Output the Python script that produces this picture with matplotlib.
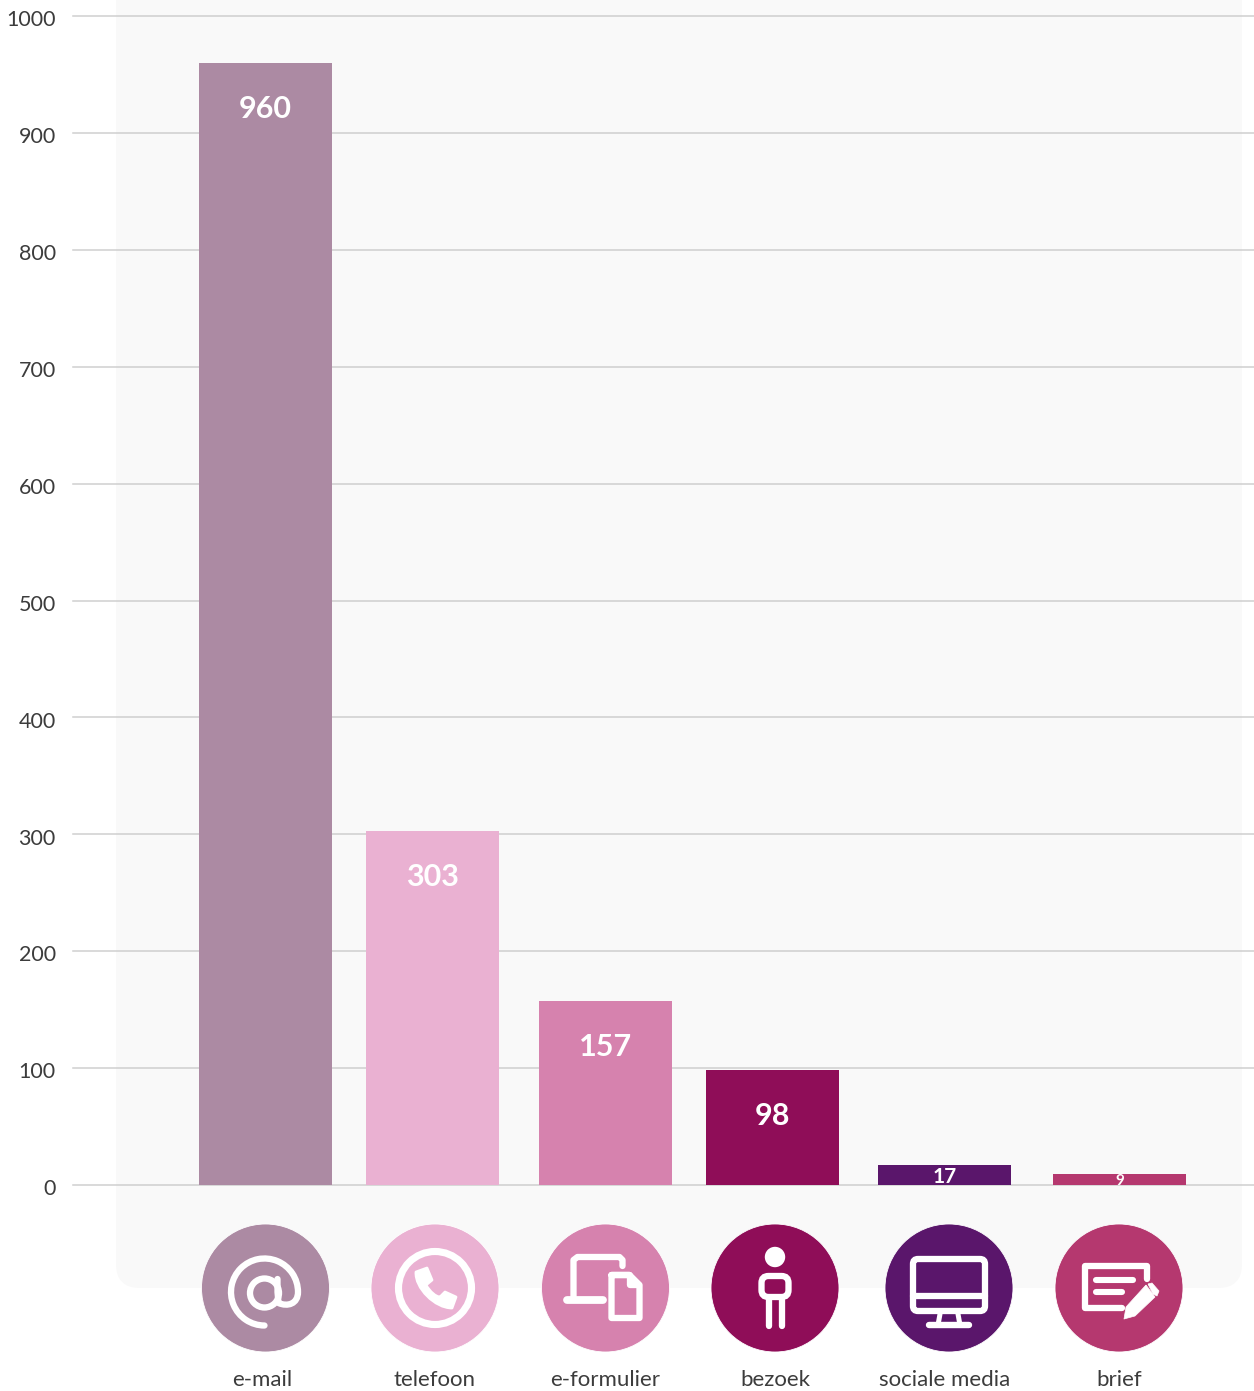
import matplotlib
matplotlib.use("Agg")
import matplotlib.pyplot as plt
from matplotlib.patches import Circle, FancyBboxPatch, PathPatch
from matplotlib.path import Path
from matplotlib.transforms import ScaledTranslation

# channel counts
channels = ["e-mail", "telefoon", "e-formulier", "bezoek", "sociale media", "brief"]
counts = [960, 303, 157, 98, 17, 9]
y_ticks = [0, 100, 200, 300, 400, 500, 600, 700, 800, 900, 1000]

colors = ["#ac8aa3", "#eab1d2", "#d682ae", "#8f0d58", "#5a166b", "#b5386f"]

# layout, in pixels of the finished image
W, H = 1254, 1391
bar_centers = [265.5, 432.5, 605.5, 772.5, 944.5, 1119.5]
icon_centers = [265.5, 435, 605.5, 775, 949, 1119]
label_centers = [262, 434, 605, 775, 945, 1119]
bar_width = 133
axis_left, axis_top, axis_bottom = 73, 16, 1185
FONT = "Lato"
WHITE = "white"

fig = plt.figure(figsize=(W / 100, H / 100), dpi=100, facecolor="white")

# pixel canvas behind the chart for the panel
bg = fig.add_axes([0, 0, 1, 1], zorder=0)
bg.set_xlim(0, W)
bg.set_ylim(H, 0)
bg.axis("off")
bg.add_patch(FancyBboxPatch((116 + 24, -60), 1126 - 48, 1288 - 24 + 60,
                            boxstyle="round,pad=24,rounding_size=24",
                            fc="#f9f9f9", ec="none"))

# the chart itself
ax = fig.add_axes([axis_left / W, 1 - axis_bottom / H, 1 - axis_left / W,
                   (axis_bottom - axis_top) / H], zorder=1)
ax.patch.set_visible(False)
ax.set_xlim(axis_left, W)
ax.set_ylim(0, 1000)
for s in ax.spines.values():
    s.set_visible(False)
ax.set_yticks(y_ticks)
ax.set_xticks([])
ax.tick_params(axis="y", length=0, pad=12.5, labelsize=15.5, labelcolor="#3c3c3c")
nudge = ScaledTranslation(0, -1.6 / 72, fig.dpi_scale_trans)
for t in ax.get_yticklabels():
    t.set_fontfamily(FONT)
    t.set_transform(t.get_transform() + nudge)
ax.yaxis.grid(True, color="#cfcfcf", lw=1.1)
ax.set_axisbelow(True)
for g in ax.get_ygridlines():
    g.set_clip_on(False)

bars = ax.bar(bar_centers, counts, width=bar_width, color=colors, zorder=3)

# value labels hang a fixed distance under the bar top, small bars get them centred
for x, v in zip(bar_centers, counts):
    if v > 50:
        ax.annotate(str(v), (x, v), xytext=(0, -33), textcoords="offset points",
                    ha="center", va="center", color=WHITE, fontsize=22,
                    fontweight="bold", family=FONT, zorder=4)
    else:
        size = 15 if v > 10 else 11
        ax.annotate(str(v), (x, v / 2), xytext=(0, -size * 0.36), textcoords="offset points",
                    ha="center", va="baseline", color=WHITE, fontsize=size,
                    fontweight="bold", family=FONT, zorder=4)

# pixel canvas on top for the icons and channel names
top = fig.add_axes([0, 0, 1, 1], zorder=2)
top.set_xlim(0, W)
top.set_ylim(H, 0)
top.axis("off")
top.patch.set_visible(False)

ICON_Y = 1288
STROKE = 6.3 * 72 / 100


def stroke(verts, codes=None, lw=STROKE):
    top.add_patch(PathPatch(Path(verts, codes), fc="none", ec=WHITE, lw=lw,
                            capstyle="round", joinstyle="round", zorder=5))


def fill(verts, codes=None):
    top.add_patch(PathPatch(Path(verts, codes), fc=WHITE, ec=WHITE, lw=0.5,
                            joinstyle="round", zorder=5))


def shift(cx, pts, cy=ICON_Y):
    return [(cx + a, cy + b) for a, b in pts]


def draw_at(cx):
    cy = ICON_Y
    # outer arc runs from the bottom round the left and over the top
    arc = Path.arc(90, 360)
    pts = [(cx - 1 + 33.5 * a, cy + 4 + 33.5 * b) for a, b in arc.vertices]
    pts = pts + shift(cx, [(32.5, 16), (22, 19), (13, 15), (12, 4), (12, -9)])
    codes = list(arc.codes) + [Path.CURVE4, Path.CURVE4, Path.CURVE4, Path.LINETO, Path.LINETO]
    stroke(pts, codes)
    top.add_patch(Circle((cx - 1, cy + 5), 14.5, fc="none", ec=WHITE, lw=STROKE, zorder=5))


def draw_phone(cx):
    cy = ICON_Y
    top.add_patch(Circle((cx, cy), 36.5, fc="none", ec=WHITE, lw=STROKE + 0.6, zorder=5))
    verts = shift(cx, [(-19, -16), (-8, -20), (-3, -8), (-9, -3),
                       (-5, 4), (1, 9), (5, 9), (10, 4), (21, 9), (17, 20),
                       (0, 20), (-20, 0), (-19, -16), (-19, -16)])
    codes = [Path.MOVETO, Path.LINETO, Path.LINETO, Path.LINETO,
             Path.CURVE4, Path.CURVE4, Path.CURVE4, Path.LINETO, Path.LINETO, Path.LINETO,
             Path.CURVE4, Path.CURVE4, Path.CURVE4, Path.CLOSEPOLY]
    top.add_patch(PathPatch(Path(verts, codes), fc=WHITE, ec=WHITE, lw=2,
                            joinstyle="round", zorder=5))


def draw_form(cx):
    stroke(shift(cx, [(-32, 11), (-32, -28), (-28, -31), (14, -31), (17, -28), (17, -22)]))
    stroke(shift(cx, [(-39, 12), (-3, 12)]), lw=5.6)
    # document with folded corner
    stroke(shift(cx, [(6, -13), (24, -13), (34, -3), (34, 30), (6, 30), (6, -13), (24, -13)]))
    stroke(shift(cx, [(24, -12), (24, -3), (33, -3)]))


def draw_person(cx):
    top.add_patch(Circle((cx, ICON_Y - 31), 10.2, fc=WHITE, ec="none", zorder=5))
    top.add_patch(FancyBboxPatch((cx - 13.5, ICON_Y - 12), 27, 21,
                                 boxstyle="round,pad=0,rounding_size=7",
                                 fc="none", ec=WHITE, lw=STROKE, zorder=5))
    stroke(shift(cx, [(-6.5, 12), (-6.5, 38)]))
    stroke(shift(cx, [(6.5, 12), (6.5, 38)]))


def draw_monitor(cx):
    top.add_patch(FancyBboxPatch((cx - 36, ICON_Y - 29), 72, 52,
                                 boxstyle="round,pad=0,rounding_size=5",
                                 fc="none", ec=WHITE, lw=STROKE, zorder=5))
    stroke(shift(cx, [(-36, 8), (36, 8)]))
    stroke(shift(cx, [(-9, 26), (-11, 37)]), lw=3.6)
    stroke(shift(cx, [(9, 26), (11, 37)]), lw=3.6)
    stroke(shift(cx, [(-20, 37), (20, 37)]), lw=4.6)


def draw_letter(cx):
    stroke(shift(cx, [(3, 20), (-34, 20), (-34, -22), (28, -22), (28, -9)]))
    stroke(shift(cx, [(-23, -8), (14, -8)]), lw=4.4)
    stroke(shift(cx, [(-23, 4), (3, 4)]), lw=4.4)
    # pencil
    fill(shift(cx, [(27, -3), (36, 9), (16, 28), (5, 31), (7, 19), (27, -3)]))
    fill(shift(cx, [(29, -4), (33, -5), (40, 3), (38, 8), (34, 6), (29, -4)]))


icon_painters = [draw_at, draw_phone, draw_form, draw_person, draw_monitor, draw_letter]

for cx, c, painter, lx, name in zip(icon_centers, colors, icon_painters, label_centers, channels):
    top.add_patch(Circle((cx, ICON_Y), 64, fc=c, ec="white", lw=0.6, zorder=4))
    painter(cx)
    top.text(lx, 1380.5, name, ha="center", va="center", fontsize=16, color="#3c3c3c",
             family=FONT, zorder=5)

fig.savefig("out.png", dpi=100)
